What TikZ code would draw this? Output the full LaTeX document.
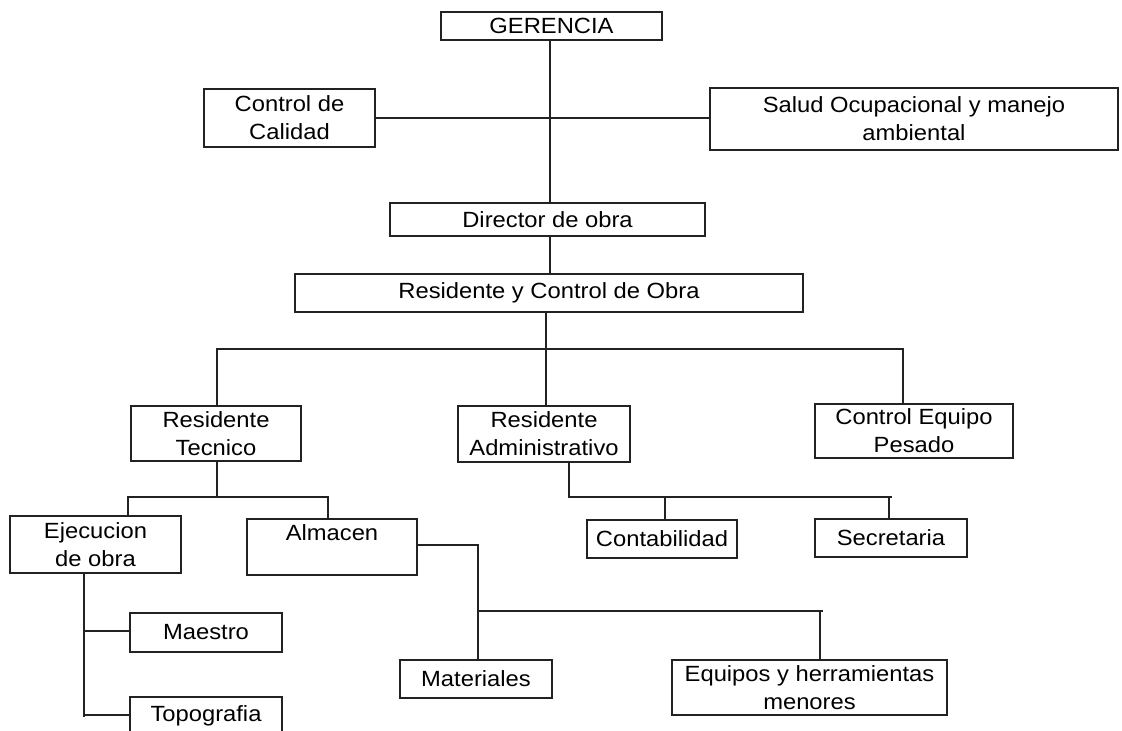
\documentclass[tikz,border=0pt]{standalone}
\usepackage{fontspec}
\setmainfont{Liberation Sans}[FakeStretch=1.08]
\usepackage{tikz}
\usetikzlibrary{positioning,calc}
\definecolor{ink}{HTML}{222222}

\tikzset{
  box/.style={draw=ink,line width=1.3pt,align=center,inner sep=0pt,
    font=\fontsize{22}{28}\selectfont,text=black},
  link/.style={draw=ink,line width=1.3pt}
}

\begin{document}
\begin{tikzpicture}[x=1pt,y=-1pt]
  \path[use as bounding box,clip] (0,0) rectangle (1122,731);

  % Top
  \node[box,minimum width=221,minimum height=28] (ger) at (551.5,26) {GERENCIA};
  \node[box,minimum width=171,minimum height=58] (cal) at (289.5,118) {Control de\\Calidad};
  \node[box,minimum width=408,minimum height=62] (sal) at (914,119) {Salud Ocupacional y manejo\\ambiental};
  \node[box,minimum width=315,minimum height=33] (dir) at (547.5,219.5) {Director de obra};
  \node[box,minimum width=508,minimum height=38] (res) at (549,293) {Residente y Control de Obra};

  % Residentes
  \node[box,minimum width=170,minimum height=55] (rtec) at (216,433.5) {Residente\\Tecnico};
  \node[box,minimum width=172,minimum height=56] (radm) at (544,434) {Residente\\Administrativo};
  \node[box,minimum width=198,minimum height=54] (ceq) at (914,431) {Control Equipo\\Pesado};

  % Below
  \node[box,minimum width=171,minimum height=57] (eje) at (95.5,544.5) {Ejecucion\\de obra};
  \node[box,minimum width=170,minimum height=56] (alm) at (332,547) {Almacen\\\mbox{}};
  \node[box,minimum width=150,minimum height=38] (con) at (662,539) {Contabilidad};
  \node[box,minimum width=152,minimum height=38] (sec) at (891,538) {Secretaria};
  \node[box,minimum width=152,minimum height=39] (mae) at (206,632.5) {Maestro};
  \node[box,minimum width=152,minimum height=38] (top) at (206,716) {Topografia};
  \node[box,minimum width=152,minimum height=38] (mat) at (476,679) {Materiales};
  \node[box,minimum width=275,minimum height=55] (equ) at (809.5,687.5) {Equipos y herramientas\\menores};

  % Junctions
  \coordinate (jres) at (546,349);
  \coordinate (jtec) at (217,497);
  \coordinate (jadm) at (569,497);
  \coordinate (jalm) at (478,545);
  \coordinate (jmat) at (478,611);
  \coordinate (jeje) at (84,573);

  % Lines
  \draw[link] (550,0 |- ger.south) -- (550,0 |- dir.north);
  \draw[link] (cal.east) -- (cal.east -| sal.west);
  \draw[link] (550,0 |- dir.south) -- (550,0 |- res.north);
  \draw[link] (jres |- res.south) -- (jres |- radm.north);
  \draw[link] (217,0 |- rtec.north) -- (217,349) -- (903,349) -- (903,0 |- ceq.north);
  \draw[link] (jtec |- rtec.south) -- (jtec);
  \draw[link] (128,0 |- eje.north) -- (128,497) -- (328,497) -- (328,0 |- alm.north);
  \draw[link] (jadm |- radm.south) -- (jadm) -- (892,497);
  \draw[link] (665,497) -- (665,0 |- con.north);
  \draw[link] (889,497) -- (889,0 |- sec.north);
  \draw[link] (alm.east |- jalm) -- (jalm) -- (jalm |- mat.north);
  \draw[link] (jmat) -- (823,611);
  \draw[link] (820,611) -- (820,0 |- equ.north);
  \draw[link] (jeje |- eje.south) -- (84,717);
  \draw[link] (84,631) -- (84,631 -| mae.west);
  \draw[link] (84,715) -- (84,715 -| top.west);
\end{tikzpicture}
\end{document}
